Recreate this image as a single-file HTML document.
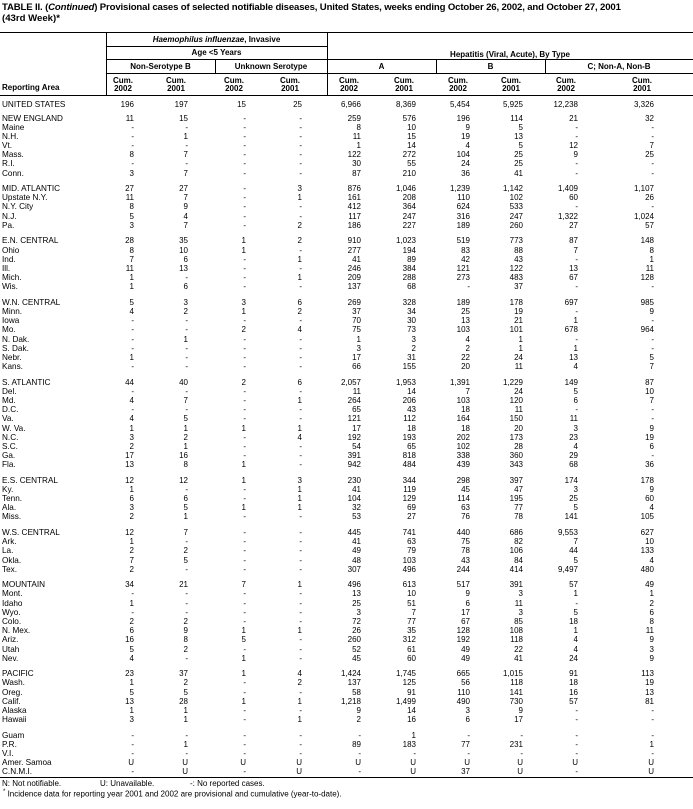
<!DOCTYPE html>
<html><head><meta charset="utf-8">
<style>
*{margin:0;padding:0;box-sizing:border-box}
html,body{width:693px;height:809px;background:#fff;overflow:hidden}
body{position:relative;font-family:"Liberation Sans",Arial,sans-serif;color:#000;font-size:8px}
.t{position:absolute;white-space:nowrap;line-height:10px}
.ln{position:absolute;background:#000}
.h{font-weight:bold;font-size:8px}
.cc{position:absolute;text-align:center;width:30px;font-weight:bold;line-height:8px;font-size:8px}
#data{position:absolute;left:0;top:113.5px;width:693px}
.g{margin-top:6.3px}
.g:first-child{margin-top:0}
.r{position:relative;height:9.2px;line-height:9.2px;white-space:nowrap;font-size:8.2px}
.r b{position:absolute;left:2px;font-weight:normal}
.r i{position:absolute;font-style:normal;font-size:8px}
.r i:nth-of-type(1){right:559px}
.r i:nth-of-type(2){right:505px}
.r i:nth-of-type(3){right:447px}
.r i:nth-of-type(4){right:391px}
.r i:nth-of-type(5){right:332px}
.r i:nth-of-type(6){right:277px}
.r i:nth-of-type(7){right:223px}
.r i:nth-of-type(8){right:170px}
.r i:nth-of-type(9){right:115px}
.r i:nth-of-type(10){right:39px}
</style></head><body>
<div class="t" style="left:2px;top:3px;font-weight:bold;font-size:9.6px;letter-spacing:-0.15px">TABLE II. (<i>Continued</i>) Provisional cases of selected notifiable diseases, United States, weeks ending October 26, 2002, and October 27, 2001</div>
<div class="t" style="left:2px;top:14px;font-weight:bold;font-size:9.6px">(43rd Week)*</div>

<div class="ln" style="left:0;top:32px;width:693px;height:1px"></div>
<div class="ln" style="left:106px;top:32px;width:1px;height:63px"></div>
<div class="ln" style="left:327px;top:32px;width:1px;height:63px"></div>
<div class="ln" style="left:106px;top:46px;width:221px;height:1px"></div>
<div class="ln" style="left:106px;top:59px;width:587px;height:1px"></div>
<div class="ln" style="left:106px;top:73px;width:587px;height:1px"></div>
<div class="ln" style="left:215px;top:59px;width:1px;height:14px"></div>
<div class="ln" style="left:436px;top:59px;width:1px;height:14px"></div>
<div class="ln" style="left:545px;top:59px;width:1px;height:14px"></div>
<div class="ln" style="left:0;top:95px;width:693px;height:1px"></div>

<div class="t h" style="left:106px;width:221px;text-align:center;top:35px"><i>Haemophilus influenzae</i>, Invasive</div>
<div class="t h" style="left:106px;width:221px;text-align:center;top:48px">Age &lt;5 Years</div>
<div class="t h" style="left:327px;width:366px;text-align:center;top:50px">Hepatitis (Viral, Acute), By Type</div>
<div class="t h" style="left:106px;width:109px;text-align:center;top:62px">Non-Serotype B</div>
<div class="t h" style="left:215px;width:112px;text-align:center;top:62px">Unknown Serotype</div>
<div class="t h" style="left:327px;width:109px;text-align:center;top:62px">A</div>
<div class="t h" style="left:436px;width:109px;text-align:center;top:62px">B</div>
<div class="t h" style="left:545px;width:148px;text-align:center;top:62px">C; Non-A, Non-B</div>
<div class="t h" style="left:2px;top:83px">Reporting Area</div>

<div class="cc" style="left:108px;top:77px">Cum.<br>2002</div>
<div class="cc" style="left:161px;top:77px">Cum.<br>2001</div>
<div class="cc" style="left:219px;top:77px">Cum.<br>2002</div>
<div class="cc" style="left:275px;top:77px">Cum.<br>2001</div>
<div class="cc" style="left:334px;top:77px">Cum.<br>2002</div>
<div class="cc" style="left:389px;top:77px">Cum.<br>2001</div>
<div class="cc" style="left:443px;top:77px">Cum.<br>2002</div>
<div class="cc" style="left:496px;top:77px">Cum.<br>2001</div>
<div class="cc" style="left:551px;top:77px">Cum.<br>2002</div>
<div class="cc" style="left:627px;top:77px">Cum.<br>2001</div>

<div class="r" style="position:absolute;left:0;top:99.5px;width:693px"><b>UNITED STATES</b><i>196</i><i>197</i><i>15</i><i>25</i><i>6,966</i><i>8,369</i><i>5,454</i><i>5,925</i><i>12,238</i><i>3,326</i></div>

<div id="data">
<div class="g">
<div class="r"><b>NEW ENGLAND</b><i>11</i><i>15</i><i>-</i><i>-</i><i>259</i><i>576</i><i>196</i><i>114</i><i>21</i><i>32</i></div>
<div class="r"><b>Maine</b><i>-</i><i>-</i><i>-</i><i>-</i><i>8</i><i>10</i><i>9</i><i>5</i><i>-</i><i>-</i></div>
<div class="r"><b>N.H.</b><i>-</i><i>1</i><i>-</i><i>-</i><i>11</i><i>15</i><i>19</i><i>13</i><i>-</i><i>-</i></div>
<div class="r"><b>Vt.</b><i>-</i><i>-</i><i>-</i><i>-</i><i>1</i><i>14</i><i>4</i><i>5</i><i>12</i><i>7</i></div>
<div class="r"><b>Mass.</b><i>8</i><i>7</i><i>-</i><i>-</i><i>122</i><i>272</i><i>104</i><i>25</i><i>9</i><i>25</i></div>
<div class="r"><b>R.I.</b><i>-</i><i>-</i><i>-</i><i>-</i><i>30</i><i>55</i><i>24</i><i>25</i><i>-</i><i>-</i></div>
<div class="r"><b>Conn.</b><i>3</i><i>7</i><i>-</i><i>-</i><i>87</i><i>210</i><i>36</i><i>41</i><i>-</i><i>-</i></div>
</div>
<div class="g">
<div class="r"><b>MID. ATLANTIC</b><i>27</i><i>27</i><i>-</i><i>3</i><i>876</i><i>1,046</i><i>1,239</i><i>1,142</i><i>1,409</i><i>1,107</i></div>
<div class="r"><b>Upstate N.Y.</b><i>11</i><i>7</i><i>-</i><i>1</i><i>161</i><i>208</i><i>110</i><i>102</i><i>60</i><i>26</i></div>
<div class="r"><b>N.Y. City</b><i>8</i><i>9</i><i>-</i><i>-</i><i>412</i><i>364</i><i>624</i><i>533</i><i>-</i><i>-</i></div>
<div class="r"><b>N.J.</b><i>5</i><i>4</i><i>-</i><i>-</i><i>117</i><i>247</i><i>316</i><i>247</i><i>1,322</i><i>1,024</i></div>
<div class="r"><b>Pa.</b><i>3</i><i>7</i><i>-</i><i>2</i><i>186</i><i>227</i><i>189</i><i>260</i><i>27</i><i>57</i></div>
</div>
<div class="g">
<div class="r"><b>E.N. CENTRAL</b><i>28</i><i>35</i><i>1</i><i>2</i><i>910</i><i>1,023</i><i>519</i><i>773</i><i>87</i><i>148</i></div>
<div class="r"><b>Ohio</b><i>8</i><i>10</i><i>1</i><i>-</i><i>277</i><i>194</i><i>83</i><i>88</i><i>7</i><i>8</i></div>
<div class="r"><b>Ind.</b><i>7</i><i>6</i><i>-</i><i>1</i><i>41</i><i>89</i><i>42</i><i>43</i><i>-</i><i>1</i></div>
<div class="r"><b>Ill.</b><i>11</i><i>13</i><i>-</i><i>-</i><i>246</i><i>384</i><i>121</i><i>122</i><i>13</i><i>11</i></div>
<div class="r"><b>Mich.</b><i>1</i><i>-</i><i>-</i><i>1</i><i>209</i><i>288</i><i>273</i><i>483</i><i>67</i><i>128</i></div>
<div class="r"><b>Wis.</b><i>1</i><i>6</i><i>-</i><i>-</i><i>137</i><i>68</i><i>-</i><i>37</i><i>-</i><i>-</i></div>
</div>
<div class="g">
<div class="r"><b>W.N. CENTRAL</b><i>5</i><i>3</i><i>3</i><i>6</i><i>269</i><i>328</i><i>189</i><i>178</i><i>697</i><i>985</i></div>
<div class="r"><b>Minn.</b><i>4</i><i>2</i><i>1</i><i>2</i><i>37</i><i>34</i><i>25</i><i>19</i><i>-</i><i>9</i></div>
<div class="r"><b>Iowa</b><i>-</i><i>-</i><i>-</i><i>-</i><i>70</i><i>30</i><i>13</i><i>21</i><i>1</i><i>-</i></div>
<div class="r"><b>Mo.</b><i>-</i><i>-</i><i>2</i><i>4</i><i>75</i><i>73</i><i>103</i><i>101</i><i>678</i><i>964</i></div>
<div class="r"><b>N. Dak.</b><i>-</i><i>1</i><i>-</i><i>-</i><i>1</i><i>3</i><i>4</i><i>1</i><i>-</i><i>-</i></div>
<div class="r"><b>S. Dak.</b><i>-</i><i>-</i><i>-</i><i>-</i><i>3</i><i>2</i><i>2</i><i>1</i><i>1</i><i>-</i></div>
<div class="r"><b>Nebr.</b><i>1</i><i>-</i><i>-</i><i>-</i><i>17</i><i>31</i><i>22</i><i>24</i><i>13</i><i>5</i></div>
<div class="r"><b>Kans.</b><i>-</i><i>-</i><i>-</i><i>-</i><i>66</i><i>155</i><i>20</i><i>11</i><i>4</i><i>7</i></div>
</div>
<div class="g">
<div class="r"><b>S. ATLANTIC</b><i>44</i><i>40</i><i>2</i><i>6</i><i>2,057</i><i>1,953</i><i>1,391</i><i>1,229</i><i>149</i><i>87</i></div>
<div class="r"><b>Del.</b><i>-</i><i>-</i><i>-</i><i>-</i><i>11</i><i>14</i><i>7</i><i>24</i><i>5</i><i>10</i></div>
<div class="r"><b>Md.</b><i>4</i><i>7</i><i>-</i><i>1</i><i>264</i><i>206</i><i>103</i><i>120</i><i>6</i><i>7</i></div>
<div class="r"><b>D.C.</b><i>-</i><i>-</i><i>-</i><i>-</i><i>65</i><i>43</i><i>18</i><i>11</i><i>-</i><i>-</i></div>
<div class="r"><b>Va.</b><i>4</i><i>5</i><i>-</i><i>-</i><i>121</i><i>112</i><i>164</i><i>150</i><i>11</i><i>-</i></div>
<div class="r"><b>W. Va.</b><i>1</i><i>1</i><i>1</i><i>1</i><i>17</i><i>18</i><i>18</i><i>20</i><i>3</i><i>9</i></div>
<div class="r"><b>N.C.</b><i>3</i><i>2</i><i>-</i><i>4</i><i>192</i><i>193</i><i>202</i><i>173</i><i>23</i><i>19</i></div>
<div class="r"><b>S.C.</b><i>2</i><i>1</i><i>-</i><i>-</i><i>54</i><i>65</i><i>102</i><i>28</i><i>4</i><i>6</i></div>
<div class="r"><b>Ga.</b><i>17</i><i>16</i><i>-</i><i>-</i><i>391</i><i>818</i><i>338</i><i>360</i><i>29</i><i>-</i></div>
<div class="r"><b>Fla.</b><i>13</i><i>8</i><i>1</i><i>-</i><i>942</i><i>484</i><i>439</i><i>343</i><i>68</i><i>36</i></div>
</div>
<div class="g">
<div class="r"><b>E.S. CENTRAL</b><i>12</i><i>12</i><i>1</i><i>3</i><i>230</i><i>344</i><i>298</i><i>397</i><i>174</i><i>178</i></div>
<div class="r"><b>Ky.</b><i>1</i><i>-</i><i>-</i><i>1</i><i>41</i><i>119</i><i>45</i><i>47</i><i>3</i><i>9</i></div>
<div class="r"><b>Tenn.</b><i>6</i><i>6</i><i>-</i><i>1</i><i>104</i><i>129</i><i>114</i><i>195</i><i>25</i><i>60</i></div>
<div class="r"><b>Ala.</b><i>3</i><i>5</i><i>1</i><i>1</i><i>32</i><i>69</i><i>63</i><i>77</i><i>5</i><i>4</i></div>
<div class="r"><b>Miss.</b><i>2</i><i>1</i><i>-</i><i>-</i><i>53</i><i>27</i><i>76</i><i>78</i><i>141</i><i>105</i></div>
</div>
<div class="g">
<div class="r"><b>W.S. CENTRAL</b><i>12</i><i>7</i><i>-</i><i>-</i><i>445</i><i>741</i><i>440</i><i>686</i><i>9,553</i><i>627</i></div>
<div class="r"><b>Ark.</b><i>1</i><i>-</i><i>-</i><i>-</i><i>41</i><i>63</i><i>75</i><i>82</i><i>7</i><i>10</i></div>
<div class="r"><b>La.</b><i>2</i><i>2</i><i>-</i><i>-</i><i>49</i><i>79</i><i>78</i><i>106</i><i>44</i><i>133</i></div>
<div class="r"><b>Okla.</b><i>7</i><i>5</i><i>-</i><i>-</i><i>48</i><i>103</i><i>43</i><i>84</i><i>5</i><i>4</i></div>
<div class="r"><b>Tex.</b><i>2</i><i>-</i><i>-</i><i>-</i><i>307</i><i>496</i><i>244</i><i>414</i><i>9,497</i><i>480</i></div>
</div>
<div class="g">
<div class="r"><b>MOUNTAIN</b><i>34</i><i>21</i><i>7</i><i>1</i><i>496</i><i>613</i><i>517</i><i>391</i><i>57</i><i>49</i></div>
<div class="r"><b>Mont.</b><i>-</i><i>-</i><i>-</i><i>-</i><i>13</i><i>10</i><i>9</i><i>3</i><i>1</i><i>1</i></div>
<div class="r"><b>Idaho</b><i>1</i><i>-</i><i>-</i><i>-</i><i>25</i><i>51</i><i>6</i><i>11</i><i>-</i><i>2</i></div>
<div class="r"><b>Wyo.</b><i>-</i><i>-</i><i>-</i><i>-</i><i>3</i><i>7</i><i>17</i><i>3</i><i>5</i><i>6</i></div>
<div class="r"><b>Colo.</b><i>2</i><i>2</i><i>-</i><i>-</i><i>72</i><i>77</i><i>67</i><i>85</i><i>18</i><i>8</i></div>
<div class="r"><b>N. Mex.</b><i>6</i><i>9</i><i>1</i><i>1</i><i>26</i><i>35</i><i>128</i><i>108</i><i>1</i><i>11</i></div>
<div class="r"><b>Ariz.</b><i>16</i><i>8</i><i>5</i><i>-</i><i>260</i><i>312</i><i>192</i><i>118</i><i>4</i><i>9</i></div>
<div class="r"><b>Utah</b><i>5</i><i>2</i><i>-</i><i>-</i><i>52</i><i>61</i><i>49</i><i>22</i><i>4</i><i>3</i></div>
<div class="r"><b>Nev.</b><i>4</i><i>-</i><i>1</i><i>-</i><i>45</i><i>60</i><i>49</i><i>41</i><i>24</i><i>9</i></div>
</div>
<div class="g">
<div class="r"><b>PACIFIC</b><i>23</i><i>37</i><i>1</i><i>4</i><i>1,424</i><i>1,745</i><i>665</i><i>1,015</i><i>91</i><i>113</i></div>
<div class="r"><b>Wash.</b><i>1</i><i>2</i><i>-</i><i>2</i><i>137</i><i>125</i><i>56</i><i>118</i><i>18</i><i>19</i></div>
<div class="r"><b>Oreg.</b><i>5</i><i>5</i><i>-</i><i>-</i><i>58</i><i>91</i><i>110</i><i>141</i><i>16</i><i>13</i></div>
<div class="r"><b>Calif.</b><i>13</i><i>28</i><i>1</i><i>1</i><i>1,218</i><i>1,499</i><i>490</i><i>730</i><i>57</i><i>81</i></div>
<div class="r"><b>Alaska</b><i>1</i><i>1</i><i>-</i><i>-</i><i>9</i><i>14</i><i>3</i><i>9</i><i>-</i><i>-</i></div>
<div class="r"><b>Hawaii</b><i>3</i><i>1</i><i>-</i><i>1</i><i>2</i><i>16</i><i>6</i><i>17</i><i>-</i><i>-</i></div>
</div>
<div class="g">
<div class="r"><b>Guam</b><i>-</i><i>-</i><i>-</i><i>-</i><i>-</i><i>1</i><i>-</i><i>-</i><i>-</i><i>-</i></div>
<div class="r"><b>P.R.</b><i>-</i><i>1</i><i>-</i><i>-</i><i>89</i><i>183</i><i>77</i><i>231</i><i>-</i><i>1</i></div>
<div class="r"><b>V.I.</b><i>-</i><i>-</i><i>-</i><i>-</i><i>-</i><i>-</i><i>-</i><i>-</i><i>-</i><i>-</i></div>
<div class="r"><b>Amer. Samoa</b><i>U</i><i>U</i><i>U</i><i>U</i><i>U</i><i>U</i><i>U</i><i>U</i><i>U</i><i>U</i></div>
<div class="r"><b>C.N.M.I.</b><i>-</i><i>U</i><i>-</i><i>U</i><i>-</i><i>U</i><i>37</i><i>U</i><i>-</i><i>U</i></div>
</div>
</div>

<div class="ln" style="left:0;top:777px;width:693px;height:1px"></div>
<div class="t" style="left:2px;top:779px;font-size:8px">N: Not notifiable.</div>
<div class="t" style="left:100px;top:779px;font-size:8px">U: Unavailable.</div>
<div class="t" style="left:190px;top:779px;font-size:8px">-: No reported cases.</div>
<div class="t" style="left:3px;top:787px;font-size:8px"><sup style="font-size:6px">*</sup> Incidence data for reporting year 2001 and 2002 are provisional and cumulative (year-to-date).</div>
</body></html>
